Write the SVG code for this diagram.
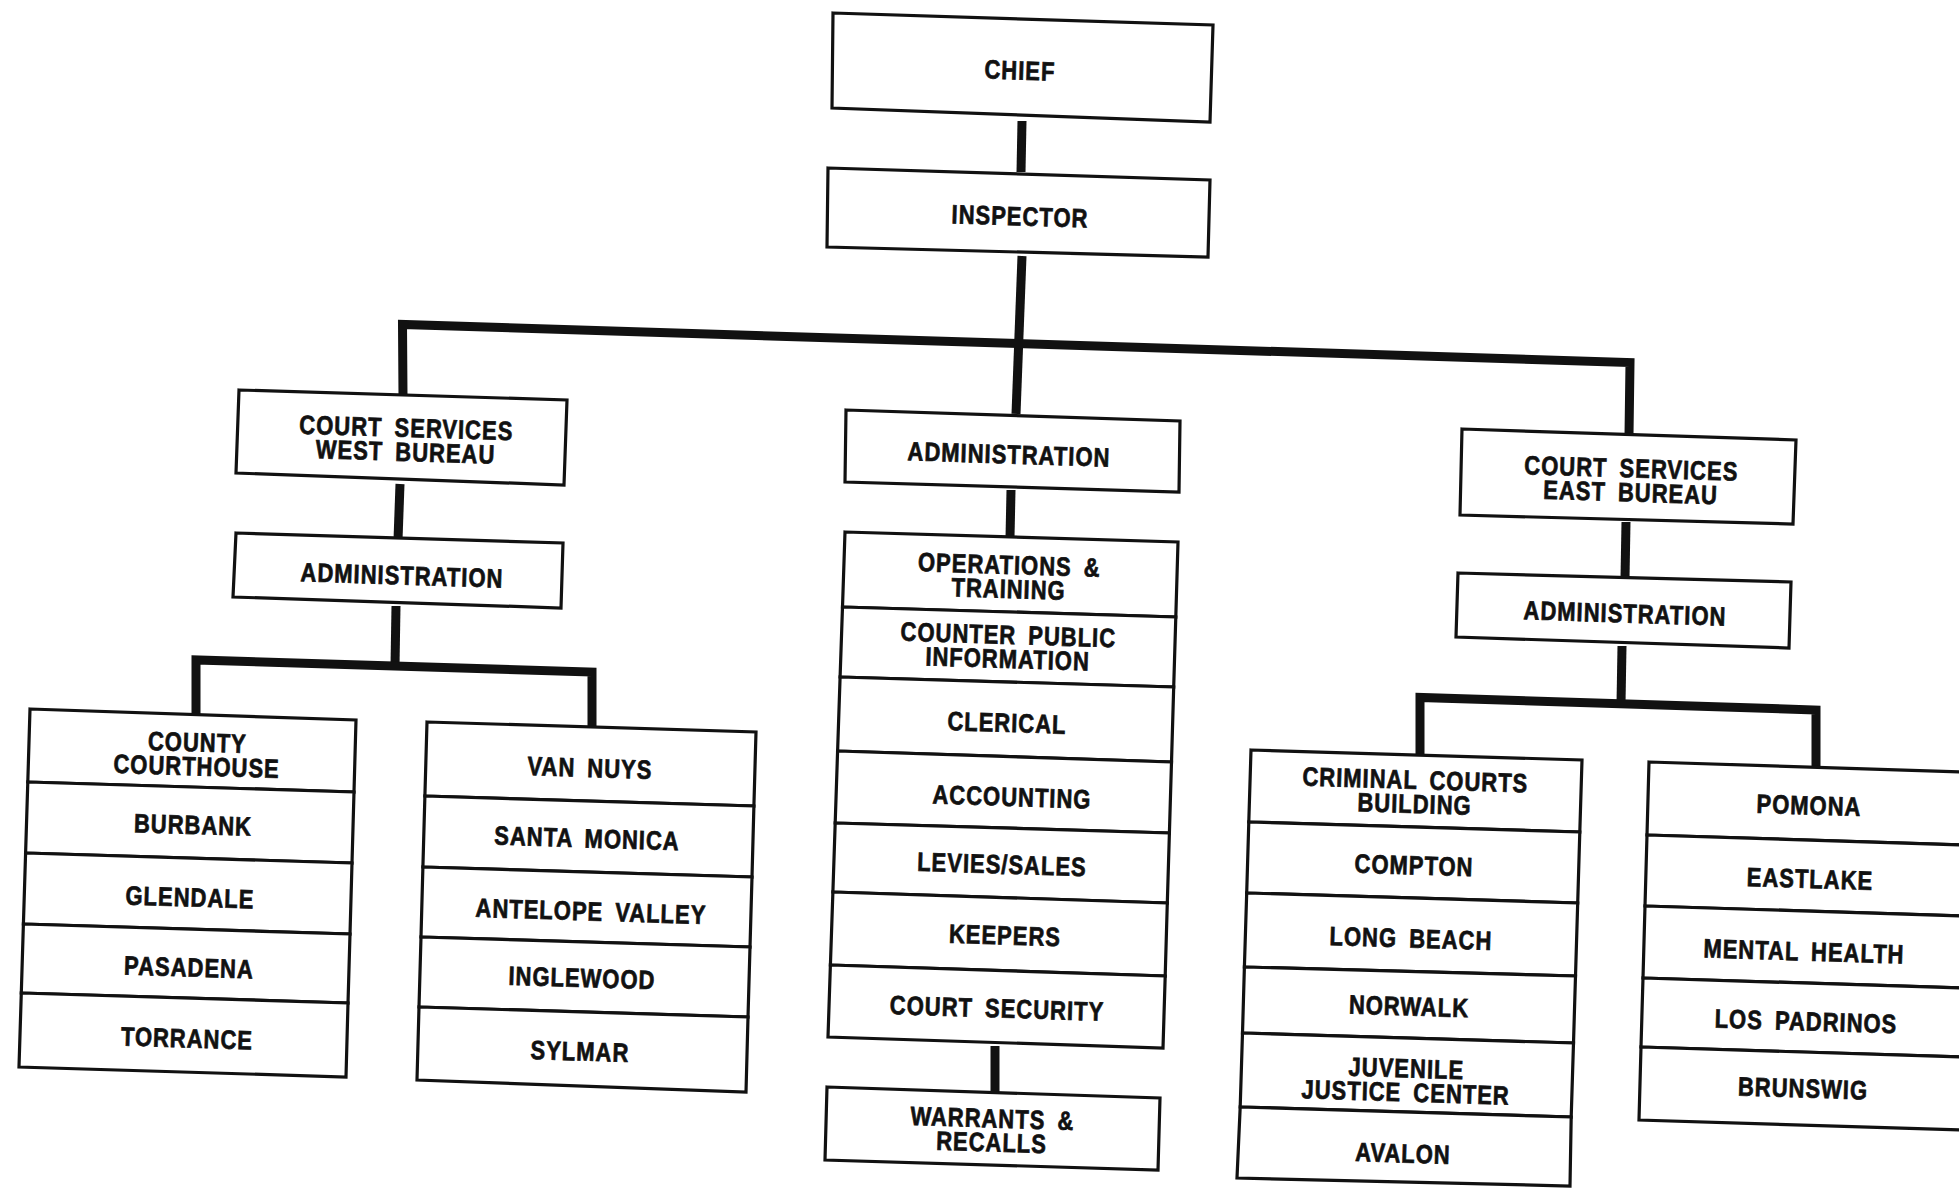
<svg xmlns="http://www.w3.org/2000/svg" width="1959" height="1188" viewBox="0 0 1959 1188">
<style>
.box{fill:#fff;stroke:#111;stroke-width:3.2;stroke-linejoin:miter}
.conn{fill:none;stroke:#111;stroke-width:9;stroke-linejoin:miter;stroke-linecap:butt}
.t{font-family:"Liberation Sans",Arial,Helvetica,sans-serif;font-weight:bold;font-size:22px;letter-spacing:1px;word-spacing:5px;text-anchor:middle;fill:#111;stroke:#111;stroke-width:0.6}
</style>
<rect x="0" y="0" width="1959" height="1188" fill="#fff"/>
<g id="connectors">
<path class="conn" d="M1022,121 L1021,172"/>
<path class="conn" d="M1022,256 L1016,414"/>
<path class="conn" d="M403,396 L402.5,324.5 L1630,362.5 L1629,435"/>
<path class="conn" d="M400,484 L398,540"/>
<path class="conn" d="M396,606 L395,666"/>
<path class="conn" d="M196,716 L196,660 L592,672 L592,728"/>
<path class="conn" d="M1011,490 L1010,538"/>
<path class="conn" d="M995,1046 L995,1092"/>
<path class="conn" d="M1626,522 L1625,578"/>
<path class="conn" d="M1622,646 L1621,704"/>
<path class="conn" d="M1420,756 L1420,697.5 L1816,710 L1816,768"/>
</g>
<g id="chief"><polygon class="box" points="833,13 1213,25 1210,122 832,108"/><text class="t" transform="translate(1020 70) rotate(1.8) scale(1 1.2)" y="7.9">CHIEF</text></g>
<g id="inspector"><polygon class="box" points="828,168 1210,180 1208,257 827,247"/><text class="t" transform="translate(1020 216) rotate(1.8) scale(1 1.2)" y="7.9">INSPECTOR</text></g>
<g id="cs-west"><polygon class="box" points="239,390 567,400 564,485 236,473"/><text class="t" transform="translate(406 439.5) rotate(1.8) scale(1 1.2)"><tspan x="0" y="-2.1">COURT SERVICES</tspan><tspan x="0" y="17.9">WEST BUREAU</tspan></text></g>
<g id="admin-west"><polygon class="box" points="236,533 563,543 561,608 233,597"/><text class="t" transform="translate(402 575) rotate(1.8) scale(1 1.2)" y="7.9">ADMINISTRATION</text></g>
<g id="admin-mid"><polygon class="box" points="846,410 1180,421 1179,492 845,482"/><text class="t" transform="translate(1009 454) rotate(1.8) scale(1 1.2)" y="7.9">ADMINISTRATION</text></g>
<g id="cs-east"><polygon class="box" points="1462,429 1796,440 1793,524 1460,515"/><text class="t" transform="translate(1631 480) rotate(1.8) scale(1 1.2)"><tspan x="0" y="-2.1">COURT SERVICES</tspan><tspan x="0" y="17.9">EAST BUREAU</tspan></text></g>
<g id="admin-east"><polygon class="box" points="1458,573 1791,582 1789,648 1456,637"/><text class="t" transform="translate(1625 613) rotate(1.8) scale(1 1.2)" y="7.9">ADMINISTRATION</text></g>
<g id="warrants"><polygon class="box" points="827,1087 1160,1098 1158,1170 825,1160"/><text class="t" transform="translate(992 1130) rotate(1.8) scale(1 1.2)"><tspan x="0" y="-2.1">WARRANTS &amp;</tspan><tspan x="0" y="17.9">RECALLS</tspan></text></g>

<g id="county-courthouse"><polygon class="box" points="30,709 356,720 354,792 27.8,782"/><text class="t" transform="translate(197 754) rotate(1.8) scale(1 1.2)"><tspan x="0" y="-2.1">COUNTY</tspan><tspan x="0" y="17.9">COURTHOUSE</tspan></text></g>
<g id="burbank"><polygon class="box" points="27.8,782 354,792 352,863 25.6,853"/><text class="t" transform="translate(193 824.5) rotate(1.8) scale(1 1.2)" y="7.9">BURBANK</text></g>
<g id="glendale"><polygon class="box" points="25.6,853 352,863 350,934 23.4,924"/><text class="t" transform="translate(190 897) rotate(1.8) scale(1 1.2)" y="7.9">GLENDALE</text></g>
<g id="pasadena"><polygon class="box" points="23.4,924 350,934 348,1003 21.3,993"/><text class="t" transform="translate(189 967) rotate(1.8) scale(1 1.2)" y="7.9">PASADENA</text></g>
<g id="torrance"><polygon class="box" points="21.3,993 348,1003 346,1077 19,1067"/><text class="t" transform="translate(187 1038) rotate(1.8) scale(1 1.2)" y="7.9">TORRANCE</text></g>

<g id="van-nuys"><polygon class="box" points="427,722 756,732 753.9,806 424.9,796"/><text class="t" transform="translate(590 767.5) rotate(1.8) scale(1 1.2)" y="7.9">VAN NUYS</text></g>
<g id="santa-monica"><polygon class="box" points="424.9,796 753.9,806 752,877 422.9,867"/><text class="t" transform="translate(587 838) rotate(1.8) scale(1 1.2)" y="7.9">SANTA MONICA</text></g>
<g id="antelope-valley"><polygon class="box" points="422.9,867 752,877 750,947 421,937"/><text class="t" transform="translate(591 911) rotate(1.8) scale(1 1.2)" y="7.9">ANTELOPE VALLEY</text></g>
<g id="inglewood"><polygon class="box" points="421,937 750,947 748,1017 419,1007"/><text class="t" transform="translate(582 977.5) rotate(1.8) scale(1 1.2)" y="7.9">INGLEWOOD</text></g>
<g id="sylmar"><polygon class="box" points="419,1007 748,1017 746,1092 417,1080"/><text class="t" transform="translate(580 1051) rotate(1.8) scale(1 1.2)" y="7.9">SYLMAR</text></g>

<g id="operations-training"><polygon class="box" points="845,532 1178,542 1175.8,617 842.5,607"/><text class="t" transform="translate(1009 576.5) rotate(1.8) scale(1 1.2)"><tspan x="0" y="-2.1">OPERATIONS &amp;</tspan><tspan x="0" y="17.9">TRAINING</tspan></text></g>
<g id="counter-public-information"><polygon class="box" points="842.5,607 1175.8,617 1173.7,687 840.1,677"/><text class="t" transform="translate(1008 646.5) rotate(1.8) scale(1 1.2)"><tspan x="0" y="-2.1">COUNTER PUBLIC</tspan><tspan x="0" y="17.9">INFORMATION</tspan></text></g>
<g id="clerical"><polygon class="box" points="840.1,677 1173.7,687 1171.5,762 837.6,751"/><text class="t" transform="translate(1007 722.5) rotate(1.8) scale(1 1.2)" y="7.9">CLERICAL</text></g>
<g id="accounting"><polygon class="box" points="837.6,751 1171.5,762 1169.4,833 835.2,823"/><text class="t" transform="translate(1012 796.5) rotate(1.8) scale(1 1.2)" y="7.9">ACCOUNTING</text></g>
<g id="levies-sales"><polygon class="box" points="835.2,823 1169.4,833 1167.3,903 832.9,892"/><text class="t" transform="translate(1002 864) rotate(1.8) scale(1 1.2)" y="7.9">LEVIES/SALES</text></g>
<g id="keepers"><polygon class="box" points="832.9,892 1167.3,903 1165.2,976 830.4,965"/><text class="t" transform="translate(1005 935) rotate(1.8) scale(1 1.2)" y="7.9">KEEPERS</text></g>
<g id="court-security"><polygon class="box" points="830.4,965 1165.2,976 1163,1048 828,1037"/><text class="t" transform="translate(997 1008) rotate(1.8) scale(1 1.2)" y="7.9">COURT SECURITY</text></g>

<g id="criminal-courts-building"><polygon class="box" points="1251,750 1582,760 1579.8,832 1248.8,822"/><text class="t" transform="translate(1415 791.5) rotate(1.8) scale(1 1.2)"><tspan x="0" y="-2.1">CRIMINAL COURTS</tspan><tspan x="0" y="17.9">BUILDING</tspan></text></g>
<g id="compton"><polygon class="box" points="1248.8,822 1579.8,832 1577.7,903 1246.7,893"/><text class="t" transform="translate(1414 865) rotate(1.8) scale(1 1.2)" y="7.9">COMPTON</text></g>
<g id="long-beach"><polygon class="box" points="1246.7,893 1577.7,903 1575.5,976 1244.4,967"/><text class="t" transform="translate(1411 938) rotate(1.8) scale(1 1.2)" y="7.9">LONG BEACH</text></g>
<g id="norwalk"><polygon class="box" points="1244.4,967 1575.5,976 1573.5,1043 1242.5,1033"/><text class="t" transform="translate(1409 1006) rotate(1.8) scale(1 1.2)" y="7.9">NORWALK</text></g>
<g id="juvenile-justice-center"><polygon class="box" points="1242.5,1033 1573.5,1043 1571.2,1117 1240.2,1107"/><text class="t" transform="translate(1406 1080) rotate(1.8) scale(1 1.2)"><tspan x="0" y="-2.1">JUVENILE</tspan><tspan x="0" y="17.9">JUSTICE CENTER</tspan></text></g>
<g id="avalon"><polygon class="box" points="1240.2,1107 1571.2,1117 1570,1186 1237,1178"/><text class="t" transform="translate(1403 1153) rotate(1.8) scale(1 1.2)" y="7.9">AVALON</text></g>

<g id="pomona"><polygon class="box" points="1649,762 1995,773 1995,846 1647,835"/><text class="t" transform="translate(1809 805) rotate(1.8) scale(1 1.2)" y="7.9">POMONA</text></g>
<g id="eastlake"><polygon class="box" points="1647,835 1995,846 1995,917 1645,906"/><text class="t" transform="translate(1810 878.5) rotate(1.8) scale(1 1.2)" y="7.9">EASTLAKE</text></g>
<g id="mental-health"><polygon class="box" points="1645,906 1995,917 1995,989 1643,978"/><text class="t" transform="translate(1804 951) rotate(1.8) scale(1 1.2)" y="7.9">MENTAL HEALTH</text></g>
<g id="los-padrinos"><polygon class="box" points="1643,978 1995,989 1995,1058 1641,1047"/><text class="t" transform="translate(1806 1021) rotate(1.8) scale(1 1.2)" y="7.9">LOS PADRINOS</text></g>
<g id="brunswig"><polygon class="box" points="1641,1047 1995,1058 1995,1131 1639,1120"/><text class="t" transform="translate(1803 1088) rotate(1.8) scale(1 1.2)" y="7.9">BRUNSWIG</text></g>
</svg>
